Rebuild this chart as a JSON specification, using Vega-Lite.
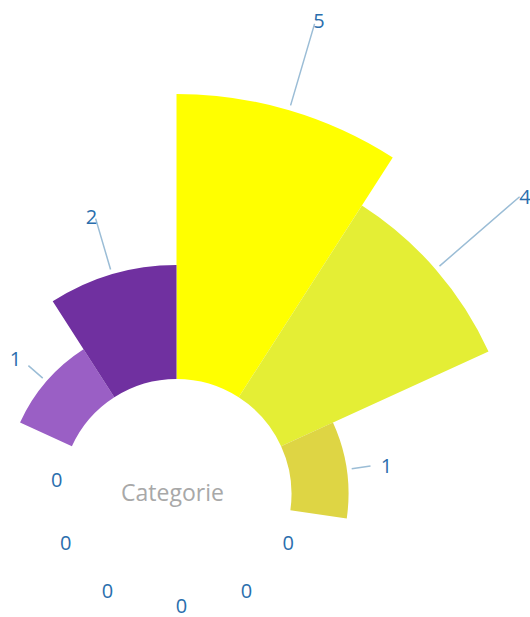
{
  "$schema": "https://vega.github.io/schema/vega-lite/v6.json",
  "width": 353,
  "height": 246,
  "autosize": {"type": "none"},
  "padding": {"left": 0, "top": 371, "right": 177, "bottom": 0},
  "background": "white",
  "view": {"stroke": null},
  "data": {
    "values": [
      {"idx": 1, "category": "A", "value": 5},
      {"idx": 2, "category": "B", "value": 4},
      {"idx": 3, "category": "C", "value": 1},
      {"idx": 4, "category": "D", "value": 0},
      {"idx": 5, "category": "E", "value": 0},
      {"idx": 6, "category": "F", "value": 0},
      {"idx": 7, "category": "G", "value": 0},
      {"idx": 8, "category": "H", "value": 0},
      {"idx": 9, "category": "I", "value": 0},
      {"idx": 10, "category": "J", "value": 1},
      {"idx": 11, "category": "K", "value": 2}
    ]
  },
  "transform": [
    {"joinaggregate": [{"op": "count", "as": "n"}], "groupby": ["category"]},
    {"stack": "n", "groupby": [], "sort": [{"field": "idx", "order": "ascending"}], "as": ["t0", "t1"]}
  ],
  "layer": [
    {
      "mark": {"type": "arc"},
      "encoding": {
        "theta": {"field": "t0", "type": "quantitative", "scale": {"type": "linear", "domain": [0, 11], "range": [0, 6.283185307]}},
        "theta2": {"field": "t1"},
        "radius": {"field": "value", "type": "quantitative", "scale": {"type": "linear", "domain": [0, 5], "range": [115, 400]}},
        "radius2": {"datum": 0},
        "color": {
          "field": "category",
          "type": "nominal",
          "legend": null,
          "scale": {
            "domain": ["A", "B", "C", "D", "E", "F", "G", "H", "I", "J", "K"],
            "range": ["#FFFF00", "#E4EE35", "#DED544", "#D6B84C", "#CC9C5A", "#C28068", "#B86A82", "#AE6A9C", "#A465B4", "#9A5FC5", "#7030A0"]
          }
        }
      }
    },
    {
      "mark": {
        "type": "arc",
        "padAngle": 1.2,
        "fillOpacity": 0,
        "stroke": "#9BBDD6",
        "strokeWidth": 1.5,
        "radius2Offset": 5,
        "radiusOffset": {"expr": "datum.value == 1 ? 24 : datum.value == 2 ? 58 : datum.value == 4 ? 111 : 90"}
      },
      "encoding": {
        "theta": {"field": "t0", "type": "quantitative"},
        "theta2": {"field": "t1"},
        "radius": {"field": "value", "type": "quantitative"},
        "radius2": {"field": "value"},
        "strokeOpacity": {"condition": {"test": "datum.value == 0", "value": 0}, "value": 1}
      }
    },
    {
      "mark": {
        "type": "text",
        "font": "Open Sans",
        "fontSize": 20,
        "color": "#2A6EAD",
        "align": "center",
        "baseline": "middle",
        "dx": {"expr": "datum.value == 0 ? (datum.t0 < 5 ? 9 : datum.t0 == 5 ? 5 : -8) : (datum.t0 < 5 ? 3 : -3)"},
        "dy": {"expr": "datum.value == 0 && datum.t0 == 5 ? 0 : 3"},
        "thetaOffset": 0.285599,
        "radiusOffset": {"expr": "datum.value == 0 ? -2 : datum.value == 1 ? 37 : datum.value == 2 ? 62 : datum.value == 4 ? 114 : 95"}
      },
      "encoding": {
        "theta": {"field": "t0", "type": "quantitative"},
        "radius": {"field": "value", "type": "quantitative"},
        "text": {"field": "value", "type": "quantitative"}
      }
    },
    {
      "data": {"values": [{"label": "Categorie"}]},
      "transform": [],
      "mark": {
        "type": "text",
        "font": "Open Sans",
        "fontSize": 23,
        "color": "#A8A8A8",
        "align": "center",
        "baseline": "middle",
        "dx": -4
      },
      "encoding": {"text": {"field": "label", "type": "nominal"}}
    }
  ]
}
